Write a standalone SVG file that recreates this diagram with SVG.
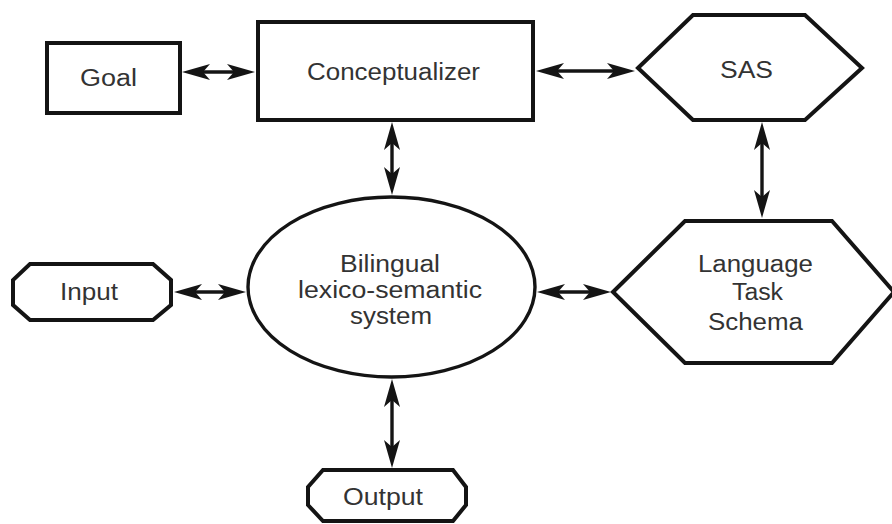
<svg xmlns="http://www.w3.org/2000/svg" width="892" height="524" viewBox="0 0 892 524">
<style>
.shape{fill:#fff;stroke:#141414;stroke-width:4;stroke-linejoin:miter}
.thin{stroke-width:3.4}
.lbl{font-family:"Liberation Sans",Arial,sans-serif;font-size:23.5px;fill:#333;text-anchor:middle}
.conn{stroke:#141414;stroke-width:3.4;fill:none;marker-start:url(#ah);marker-end:url(#ah)}
</style>
<defs>
<marker id="ah" viewBox="0 0 28 16" refX="17" refY="8" markerWidth="28" markerHeight="16" markerUnits="userSpaceOnUse" orient="auto-start-reverse">
<path d="M0,0 L28,8 L0,16 L7,8 Z" fill="#141414"/>
</marker>
</defs>
<rect width="892" height="524" fill="#fff"/>
<g id="connectors">
<line class="conn" x1="193" y1="72" x2="244" y2="72"/>
<line class="conn" x1="547" y1="71" x2="624" y2="71"/>
<line class="conn" x1="392" y1="133" x2="392" y2="184"/>
<line class="conn" x1="762" y1="133" x2="762" y2="207"/>
<line class="conn" x1="185" y1="292" x2="235" y2="292"/>
<line class="conn" x1="548" y1="292" x2="600" y2="292"/>
<line class="conn" x1="392" y1="390" x2="392" y2="457"/>
</g>
<g id="goal">
<rect class="shape" x="47" y="43" width="133" height="70"/>
<text class="lbl" x="108.5" y="86" textLength="57" lengthAdjust="spacingAndGlyphs">Goal</text>
</g>
<g id="conceptualizer">
<rect class="shape" x="258" y="22" width="275" height="98"/>
<text class="lbl" x="393.5" y="80" textLength="173" lengthAdjust="spacingAndGlyphs">Conceptualizer</text>
</g>
<g id="sas">
<polygon class="shape" points="638,68 693,15 805,15 862,68 805,120 693,120"/>
<text class="lbl" x="746.5" y="78" textLength="53" lengthAdjust="spacingAndGlyphs">SAS</text>
</g>
<g id="lexico-semantic">
<ellipse class="shape thin" cx="391.5" cy="287" rx="143.5" ry="90"/>
<text class="lbl" x="390" y="272" textLength="100" lengthAdjust="spacingAndGlyphs">Bilingual</text>
<text class="lbl" x="390" y="298" textLength="184" lengthAdjust="spacingAndGlyphs">lexico-semantic</text>
<text class="lbl" x="391" y="324" textLength="82" lengthAdjust="spacingAndGlyphs">system</text>
</g>
<g id="language-task-schema">
<polygon class="shape" points="613,292 685,221 832,221 894,292 832,363 685,363"/>
<text class="lbl" x="755.5" y="272" textLength="115" lengthAdjust="spacingAndGlyphs">Language</text>
<text class="lbl" x="757.5" y="300" textLength="51" lengthAdjust="spacingAndGlyphs">Task</text>
<text class="lbl" x="755.5" y="330" textLength="95" lengthAdjust="spacingAndGlyphs">Schema</text>
</g>
<g id="input">
<polygon class="shape" points="30,264 153,264 171,280 171,305 153,320 30,320 13,305 13,280"/>
<text class="lbl" x="89" y="300" textLength="58" lengthAdjust="spacingAndGlyphs">Input</text>
</g>
<g id="output">
<polygon class="shape" points="323,470 453,470 466,487 466,505 453,521 323,521 308,505 308,487"/>
<text class="lbl" x="383" y="505" textLength="80" lengthAdjust="spacingAndGlyphs">Output</text>
</g>
</svg>
